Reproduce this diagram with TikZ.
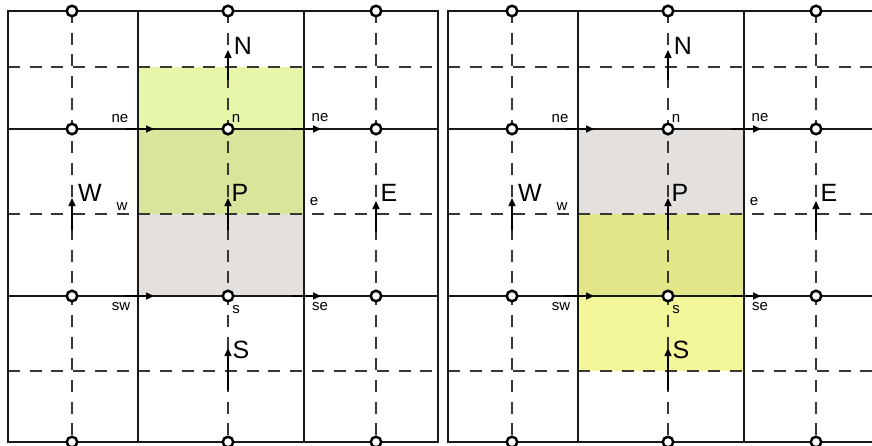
\documentclass[tikz,border=0pt]{standalone}
\usepackage{fontspec}
\setmainfont{Liberation Sans}
\usepackage{xcolor}
\usetikzlibrary{arrows.meta}
\definecolor{cvtop}{HTML}{E6F7AA}
\definecolor{cvmid}{HTML}{D9E59B}
\definecolor{cvgrey}{HTML}{E3E0DE}
\definecolor{cvolive}{HTML}{E3E688}
\definecolor{cvpale}{HTML}{F4F799}
\definecolor{cvline}{HTML}{3A3530}

\begin{document}
\begin{tikzpicture}[x=1pt,y=-1pt,
  cvsolid/.style={line width=1.5pt,black!90},
  cvdash/.style={line width=1.5pt,cvline,dash pattern=on 12pt off 9.7pt},
  gridpt/.style={circle,draw,fill=white,line width=2.5pt,minimum size=10.5pt,inner sep=0pt},
  flux/.style={-{Triangle[length=8pt,width=7pt]},line width=1.5pt},
  big/.style={font=\fontsize{25}{25}\selectfont,inner sep=0pt},
  small/.style={font=\fontsize{15}{15}\selectfont,inner sep=0pt}]
  \clip (0,0) rectangle (872,445);
  \fill[white] (0,0) rectangle (872,445);
  \fill[cvtop] (138,67) rectangle (304,129);
  \fill[cvmid] (138,129) rectangle (304,214);
  \fill[cvgrey] (138,214) rectangle (304,296);
  \fill[cvgrey] (578,129) rectangle (744,214);
  \fill[cvolive] (578,214) rectangle (744,296);
  \fill[cvpale] (578,296) rectangle (744,371);
  \foreach \dx/\pn in {0/L,440/R}{
    \begin{scope}[shift={(\dx,0)}]
      \foreach \gy in {67,214,371} \draw[cvdash] (8,\gy) -- (438,\gy);
      \foreach \gx in {72,228,376} \draw[cvdash] (\gx,11) -- (\gx,442);
      \draw[cvsolid] (8,11) rectangle (438,442);
      \foreach \gx in {138,304} \draw[cvsolid] (\gx,11) -- (\gx,442);
      \foreach \gy in {129,296} \draw[cvsolid] (8,\gy) -- (438,\gy);
      \foreach \gy in {129,296}{
        \draw[flux] (125,\gy) -- (154,\gy);
        \draw[flux] (292,\gy) -- (321,\gy);
      }
      \foreach \ax/\ay/\al in {72/230/32,228/230/32,376/232/31,228/80/30,228/390/42}
        \draw[flux] (\ax,\ay) -- ++(0,-\al);
      \foreach \cx/\ci in {72/1,228/2,376/3}
        \foreach \cy/\cj in {11/1,129/2,296/3,442/4}
          \node[gridpt] (\pn-\ci\cj) at (\cx,\cy) {};
      \node[big] (\pn-N) at (243,46) {N};
      \node[big] (\pn-W) at (90,193) {W};
      \node[big] (\pn-P) at (240,193) {P};
      \node[big] (\pn-E) at (389,193) {E};
      \node[big] (\pn-S) at (241,350) {S};
      \node[small] (\pn-nw) at (120,119) {ne};
      \node[small] (\pn-n) at (236,118) {n};
      \node[small] (\pn-ne) at (320,118) {ne};
      \node[small] (\pn-w) at (122,207) {w};
      \node[small] (\pn-e) at (314,202) {e};
      \node[small] (\pn-sw) at (121,307) {sw};
      \node[small] (\pn-s) at (236,310) {s};
      \node[small] (\pn-se) at (320,307) {se};
    \end{scope}
  }
\end{tikzpicture}
\end{document}
